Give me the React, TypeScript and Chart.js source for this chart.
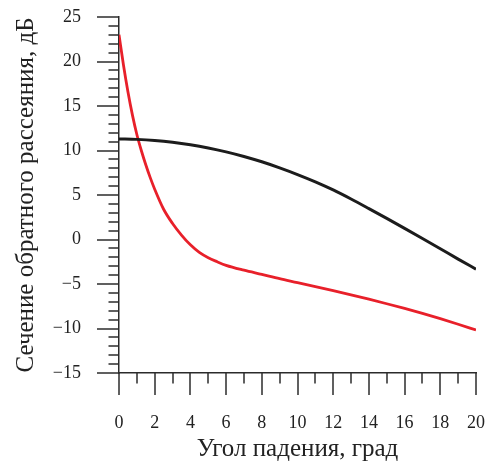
import React, { useEffect, useRef } from "react";
import { Chart, registerables } from "chart.js";

Chart.register(...registerables);

// Угол падения, град
const xRed = [0, 0.25, 0.5, 0.75, 1, 1.25, 1.5, 1.75, 2, 2.5, 3, 3.5, 4, 4.5, 5, 5.5, 6, 7, 8, 9, 10, 11, 12, 13, 14, 15, 16, 17, 18, 19, 20];
const redValues = [23.0, 19.6, 16.6, 14.0, 11.8, 10.0, 8.4, 6.95, 5.65, 3.4, 1.8, 0.5, -0.6, -1.45, -2.05, -2.5, -2.9, -3.45, -3.92, -4.4, -4.84, -5.29, -5.75, -6.22, -6.71, -7.22, -7.75, -8.31, -8.9, -9.52, -10.17];

const xBlack = [0, 1, 2, 3, 4, 5, 6, 7, 8, 9, 10, 11, 12, 13, 14, 15, 16, 17, 18, 19, 20];
const blackValues = [11.3, 11.25, 11.13, 10.93, 10.65, 10.29, 9.85, 9.33, 8.73, 8.05, 7.3, 6.48, 5.57, 4.55, 3.47, 2.37, 1.25, 0.11, -1.04, -2.2, -3.33];

const yMajor = [-15, -10, -5, 0, 5, 10, 15, 20, 25];
const xMajor = [0, 2, 4, 6, 8, 10, 12, 14, 16, 18, 20];
const yMinor: number[] = [];
for (let v = -15; v <= 25; v++) if (!yMajor.includes(v)) yMinor.push(v);
const xMinor: number[] = [];
for (let v = 0; v <= 20; v++) if (!xMajor.includes(v)) xMinor.push(v);

const xTitle = "Угол падения, град";
const yTitle = "Сечение обратного рассеяния, дБ";

const AXIS = "#2b2b2b";
const FONT = "'Liberation Serif', 'Times New Roman', serif";
const MAJOR_LEN = 22;
const MINOR_LEN = 10.5;

const axisTicks = {
  id: "axisTicks",
  afterDraw(chart: any) {
    const { ctx, chartArea } = chart;
    const xs = chart.scales.x;
    const ys = chart.scales.y;
    ctx.save();
    ctx.strokeStyle = AXIS;
    ctx.lineWidth = 1.5;
    const hTick = (v: number, len: number) => {
      const py = Math.round(ys.getPixelForValue(v));
      ctx.beginPath();
      ctx.moveTo(chartArea.left - len, py);
      ctx.lineTo(chartArea.left, py);
      ctx.stroke();
    };
    const vTick = (v: number, len: number) => {
      const px = Math.round(xs.getPixelForValue(v));
      ctx.beginPath();
      ctx.moveTo(px, chartArea.bottom);
      ctx.lineTo(px, chartArea.bottom + len);
      ctx.stroke();
    };
    yMinor.forEach((v) => hTick(v, MINOR_LEN));
    yMajor.forEach((v) => hTick(v, MAJOR_LEN));
    xMinor.forEach((v) => vTick(v, MINOR_LEN));
    xMajor.forEach((v) => vTick(v, MAJOR_LEN));
    ctx.restore();
  },
};

const fmt = (v: any) => String(v).replace("-", "\u2212");

export default function App() {
  const ref = useRef<HTMLCanvasElement | null>(null);
  useEffect(() => {
    document.body.style.margin = "0";
    if (!ref.current) return;
    const chart = new Chart(ref.current, {
      type: "line",
      data: {
        datasets: [
          {
            data: xBlack.map((x, i) => ({ x, y: blackValues[i] })),
            borderColor: "#1c1c1c",
            borderWidth: 3,
            pointRadius: 0,
            cubicInterpolationMode: "monotone",
          },
          {
            data: xRed.map((x, i) => ({ x, y: redValues[i] })),
            borderColor: "#e8202a",
            borderWidth: 2.8,
            pointRadius: 0,
            cubicInterpolationMode: "monotone",
          },
        ],
      },
      options: {
        responsive: false,
        animation: false,
        layout: { padding: { top: 17, right: 12, left: 0, bottom: 0 } },
        plugins: { legend: { display: false }, tooltip: { enabled: false } },
        scales: {
          x: {
            type: "linear",
            min: 0,
            max: 20,
            afterFit: (s: any) => {
              s.height = 90;
            },
            ticks: {
              stepSize: 2,
              padding: 3,
              color: "#222",
              font: { family: FONT, size: 18 },
              maxRotation: 0,
              callback: fmt,
            },
            grid: {
              drawOnChartArea: false,
              drawTicks: true,
              tickLength: 36,
              tickColor: "rgba(0,0,0,0)",
            },
            border: { display: true, color: AXIS, width: 1.5 },
            title: {
              display: true,
              text: xTitle,
              color: "#222",
              font: { family: FONT, size: 25, lineHeight: 1 },
              padding: { top: 0, bottom: 1 },
            },
          },
          y: {
            type: "linear",
            min: -15,
            max: 25,
            afterFit: (s: any) => {
              s.width = 119;
            },
            ticks: {
              stepSize: 5,
              padding: 3,
              color: "#222",
              font: { family: FONT, size: 18 },
              callback: fmt,
            },
            grid: {
              drawOnChartArea: false,
              drawTicks: true,
              tickLength: 35,
              tickColor: "rgba(0,0,0,0)",
            },
            border: { display: true, color: AXIS, width: 1.5 },
            title: {
              display: true,
              text: yTitle,
              color: "#222",
              font: { family: FONT, size: 25, lineHeight: 1 },
              padding: { top: 14, bottom: 0 },
            },
          },
        },
      },
      plugins: [axisTicks],
    });
    return () => chart.destroy();
  }, []);
  return (
    <div style={{ width: 488, height: 463 }}>
      <canvas ref={ref} width={488} height={463} style={{ width: 488, height: 463, display: "block" }} />
    </div>
  );
}
